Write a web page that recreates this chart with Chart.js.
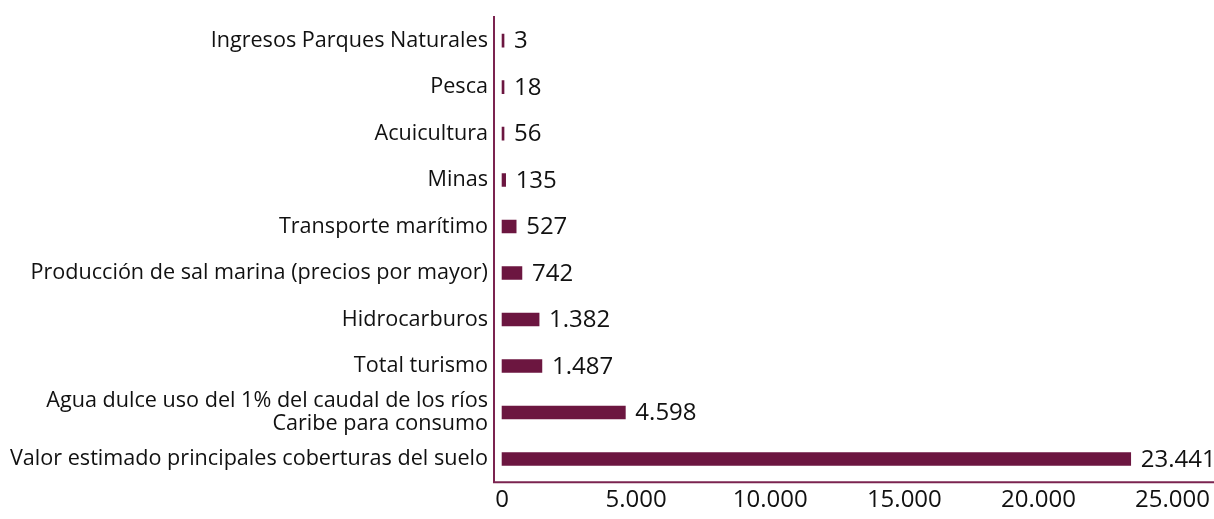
<!DOCTYPE html>
<html>
<head>
<meta charset="utf-8">
<script src="https://cdn.jsdelivr.net/npm/chart.js@4/dist/chart.umd.min.js"></script>
<style>
  html, body { margin: 0; padding: 0; background: #fff; }
  #wrap { width: 1214px; height: 519px; }
</style>
</head>
<body>
<div id="wrap"><canvas id="valorChart"></canvas></div>
<script>
// Datos
const categorias = [
    'Ingresos Parques Naturales',
    'Pesca',
    'Acuicultura',
    'Minas',
    'Transporte marítimo',
    'Producción de sal marina (precios por mayor)',
    'Hidrocarburos',
    'Total turismo',
    ['Agua dulce uso del 1% del caudal de los ríos', 'Caribe para consumo'],
    'Valor estimado principales coberturas del suelo'
];
const valores = [3, 18, 56, 135, 527, 742, 1382, 1487, 4598, 23441];
const ticksX = [0, 5000, 10000, 15000, 20000, 25000];

const colorBarra = '#6c1640';
const colorEje = '#7b2450';
const fuente = '"Open Sans", "Noto Sans", sans-serif';

// Formato con punto de miles
function formatoMiles(v) {
    return String(v).replace(/\B(?=(\d{3})+(?!\d))/g, '.');
}

// Etiquetas de valor y línea inferior
const etiquetasPlugin = {
    id: 'etiquetas',
    afterDatasetsDraw(chart) {
        const ctx = chart.ctx;
        const meta = chart.getDatasetMeta(0);
        ctx.save();
        ctx.font = '24px ' + fuente;
        ctx.fillStyle = '#111';
        ctx.textBaseline = 'middle';
        ctx.textAlign = 'left';
        meta.data.forEach((bar, i) => {
            ctx.fillText(formatoMiles(valores[i]), bar.x + 10, bar.y + 1);
        });
        // eje horizontal hasta el borde
        const area = chart.chartArea;
        ctx.strokeStyle = colorEje;
        ctx.lineWidth = 2;
        ctx.beginPath();
        ctx.moveTo(area.left - 1, area.bottom);
        ctx.lineTo(chart.width, area.bottom);
        ctx.stroke();
        ctx.restore();
    }
};

new Chart(document.getElementById('valorChart'), {
    type: 'bar',
    data: {
        labels: categorias,
        datasets: [{
            data: valores,
            backgroundColor: colorBarra,
            borderWidth: 0,
            barThickness: 13,
            minBarLength: 2
        }]
    },
    options: {
        indexAxis: 'y',
        responsive: true,
        maintainAspectRatio: false,
        animation: false,
        layout: { padding: { top: -4, left: 4, right: 0, bottom: 0 } },
        plugins: {
            legend: { display: false },
            tooltip: { enabled: false }
        },
        scales: {
            x: {
                min: -300,
                max: 25000,
                afterBuildTicks: (scale) => {
                    scale.ticks = ticksX.map(v => ({ value: v }));
                },
                grid: { display: false, drawTicks: false },
                border: { display: false },
                ticks: {
                    padding: 4,
                    color: '#111',
                    maxRotation: 0,
                    font: { family: fuente, size: 24 },
                    callback: (v) => formatoMiles(v)
                }
            },
            y: {
                grid: { display: false, drawTicks: false },
                border: { display: true, color: colorEje, width: 2 },
                ticks: {
                    autoSkip: false,
                    padding: 6,
                    color: '#111',
                    font: { family: fuente, size: 21.6, lineHeight: 1.05 }
                }
            }
        }
    },
    plugins: [etiquetasPlugin]
});
</script>
</body>
</html>
